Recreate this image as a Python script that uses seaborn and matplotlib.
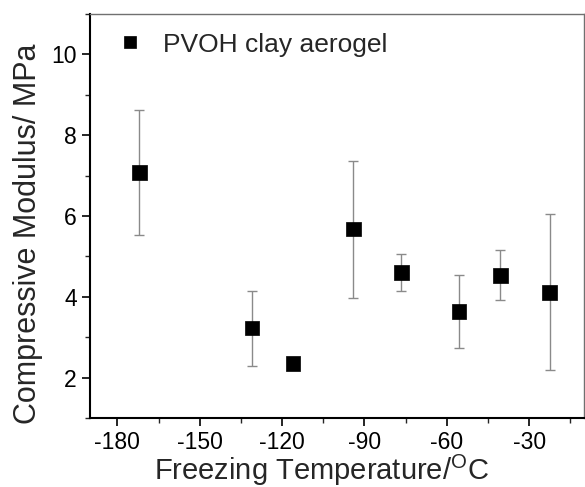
import matplotlib
matplotlib.use("Agg")
import matplotlib.pyplot as plt
from matplotlib.ticker import MultipleLocator
import numpy as np
import pandas as pd
import seaborn as sns

# values
temperature = [-172, -131, -116, -94, -76.5, -55.5, -40.5, -22.5]
modulus = [7.07, 3.23, 2.35, 5.68, 4.60, 3.63, 4.53, 4.10]
err_low = [1.55, 0.95, 0.0, 1.70, 0.45, 0.90, 0.60, 1.90]
err_high = [1.55, 0.92, 0.0, 1.68, 0.45, 0.92, 0.63, 1.95]
series_name = 'PVOH clay aerogel'

df = pd.DataFrame({'Temperature': temperature, 'Modulus': modulus, 'Sample': series_name})

sns.set_style('ticks')
plt.rcParams['font.family'] = ['Liberation Sans', 'DejaVu Sans']
plt.rcParams['mathtext.fontset'] = 'custom'
plt.rcParams['mathtext.rm'] = 'Liberation Sans'
plt.rcParams['axes.unicode_minus'] = False

fig = plt.figure(figsize=(5.85, 4.87), dpi=100)
ax = fig.add_axes([0.1538, 0.1417, 0.8445, 0.8296])

ax.errorbar(temperature, modulus, yerr=[err_low, err_high], fmt='none',
            ecolor='#8a8a8a', elinewidth=1.0, capsize=3.5, capthick=1.0, zorder=2)
sns.scatterplot(data=df, x='Temperature', y='Modulus', hue='Sample', palette=['black'],
                marker='s', s=110, edgecolor='black', linewidth=0.5, ax=ax, zorder=3)

ax.set_xlim(-190, -10)
ax.set_ylim(1, 11)
ax.xaxis.set_major_locator(MultipleLocator(30))
ax.xaxis.set_minor_locator(MultipleLocator(15))
ax.yaxis.set_major_locator(MultipleLocator(2))
ax.yaxis.set_minor_locator(MultipleLocator(1))
ax.tick_params(which='major', direction='out', length=6, width=1.2, labelsize=16.5, colors='black')
ax.tick_params(which='minor', direction='out', length=3.5, width=1.0)
ax.tick_params(top=False, right=False, which='both')

for side in ['left', 'bottom']:
    ax.spines[side].set_linewidth(1.5)
    ax.spines[side].set_color('black')
for side in ['top', 'right']:
    ax.spines[side].set_linewidth(1.0)
    ax.spines[side].set_color('#707070')

ax.set_xlabel(r'Freezing Temperature/$\mathregular{^{O}}$C', fontsize=21)
ax.set_ylabel('Compressive Modulus/ MPa', fontsize=22)
ax.xaxis.set_label_coords(0.468, -0.086)
ax.yaxis.set_label_coords(-0.095, 0.455)

leg = ax.legend(loc='upper left', frameon=False, fontsize=19, markerscale=0.8,
                handletextpad=0.25, borderaxespad=0.0, bbox_to_anchor=(0.006, 0.98))
for h in leg.legend_handles:
    h.set_marker('s')

fig.savefig('out.png', dpi=100)
